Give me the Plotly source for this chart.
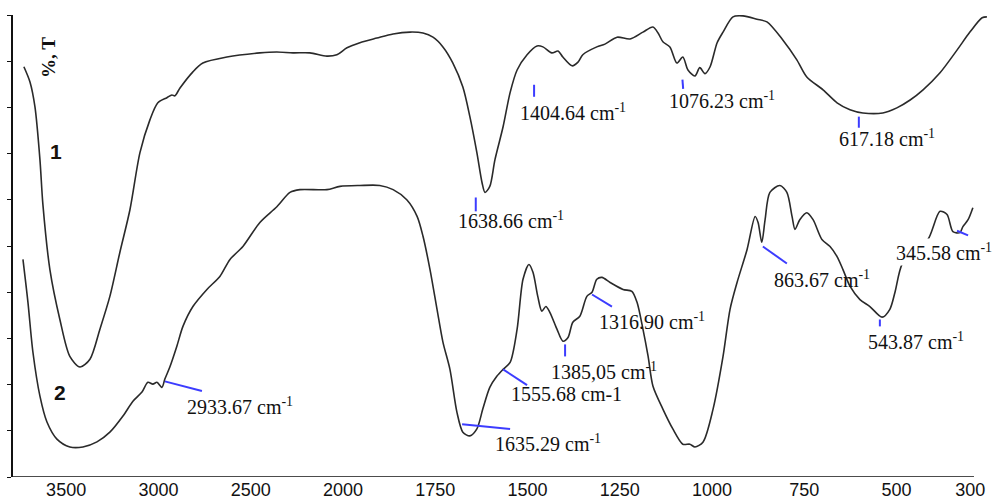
import numpy as np
import plotly.graph_objects as go

# ---------------- data (wavenumber in cm-1, transmittance in arbitrary %T) -------------
wn1 = [3729, 3696, 3669, 3642, 3626, 3588, 3534, 3480, 3425, 3371, 3317, 3263, 3209, 3154, 3100, 3046,
       3003, 2954, 2927, 2911, 2883, 2813, 2759, 2629, 2450, 2358, 2271, 2179, 2087, 2033, 1989, 1954,
       1908, 1864, 1818, 1783, 1756, 1729, 1702, 1675, 1656, 1637, 1623, 1615, 1602, 1588, 1566, 1547,
       1528, 1501, 1474, 1458, 1434, 1417, 1404, 1379, 1363, 1350, 1312, 1290, 1257, 1222, 1187, 1160,
       1146, 1133, 1114, 1095, 1079, 1065, 1046, 1033, 1019, 1005, 986, 970, 943, 916, 878, 851,
       808, 770, 743, 699, 661, 626, 591, 537, 499, 463, 428, 382, 336, 301, 268, 255]
t1 = [88.8, 85.5, 80.1, 68.7, 59.0, 44.9, 34.1, 26.1, 23.8, 25.5, 32.0, 39.1, 48.6, 57.9, 70.2, 77.3,
      81.0, 82.1, 82.7, 82.5, 84.2, 87.7, 89.6, 90.9, 91.8, 92.0, 91.8, 91.8, 91.1, 91.4, 92.9, 94.0,
      95.0, 95.9, 96.3, 96.1, 95.2, 93.1, 89.6, 84.4, 78.0, 70.2, 63.7, 61.6, 62.9, 68.7, 75.8, 83.2,
      88.1, 91.4, 93.3, 93.1, 91.8, 92.2, 90.9, 89.0, 89.8, 91.4, 93.1, 93.7, 95.2, 94.8, 96.3, 97.4,
      96.1, 94.2, 93.1, 89.6, 90.9, 88.1, 86.8, 88.6, 87.3, 88.8, 94.0, 96.3, 99.6, 99.8, 99.1, 98.5,
      94.6, 90.3, 86.6, 83.8, 81.0, 79.5, 78.8, 78.8, 79.9, 81.6, 83.8, 87.5, 92.4, 96.3, 99.4, 99.6]

wn2 = [3734, 3707, 3680, 3642, 3604, 3550, 3480, 3409, 3333, 3263, 3192, 3138, 3089, 3057, 3030, 3008,
       2981, 2965, 2938, 2900, 2867, 2813, 2737, 2667, 2612, 2542, 2450, 2358, 2287, 2233, 2087, 2016,
       1954, 1900, 1864, 1827, 1799, 1783, 1764, 1745, 1729, 1710, 1691, 1675, 1656, 1637, 1621, 1602,
       1583, 1566, 1547, 1528, 1512, 1496, 1485, 1472, 1461, 1450, 1439, 1420, 1404, 1390, 1377, 1358,
       1339, 1325, 1312, 1298, 1276, 1241, 1217, 1203, 1187, 1173, 1160, 1133, 1106, 1079, 1060, 1046,
       1024, 997, 970, 951, 932, 905, 883, 875, 865, 856, 843, 816, 797, 783, 775, 762,
       743, 726, 702, 680, 661, 645, 626, 599, 572, 539, 518, 504, 485, 444, 415, 382,
       363, 347, 328, 320, 306, 293]
t2 = [47.1, 37.8, 27.0, 17.5, 11.9, 8.2, 6.5, 6.5, 7.6, 9.7, 13.2, 16.4, 18.4, 20.5, 20.1, 20.5,
      19.4, 21.2, 23.8, 28.3, 32.6, 36.9, 40.6, 43.4, 47.1, 49.9, 55.1, 58.5, 61.6, 62.2, 62.2, 62.9,
      63.1, 63.1, 62.2, 60.0, 56.4, 52.1, 44.9, 36.3, 29.2, 23.3, 14.0, 9.7, 8.9, 10.4, 14.7, 19.4,
      21.8, 23.3, 24.8, 32.0, 42.8, 46.0, 44.3, 39.1, 35.9, 36.9, 35.6, 32.0, 29.4, 30.2, 33.5, 34.8,
      39.1, 40.0, 42.8, 43.2, 42.1, 40.6, 40.2, 37.8, 32.0, 26.1, 19.7, 14.7, 10.4, 7.1, 7.1, 6.5,
      7.6, 14.7, 26.1, 36.3, 42.1, 49.2, 56.4, 55.1, 50.8, 55.7, 61.6, 63.1, 61.6, 56.4, 53.6, 55.7,
      57.2, 55.7, 51.4, 49.9, 47.7, 44.9, 41.3, 38.4, 36.9, 34.6, 36.3, 40.0, 46.0, 49.9, 51.4, 57.5,
      56.8, 53.1, 52.9, 54.2, 55.7, 58.3]

tick_wn = [3500, 3000, 2500, 2000, 1750, 1500, 1250, 1000, 750, 500, 300]
tick_text = [str(v) for v in tick_wn]

peak_labels = ["1404.64 cm<sup>-1</sup>", "1076.23 cm<sup>-1</sup>", "617.18 cm<sup>-1</sup>",
               "1638.66 cm<sup>-1</sup>", "2933.67 cm<sup>-1</sup>", "1635.29 cm<sup>-1</sup>",
               "1555.68 cm-1", "1385,05 cm<sup>-1</sup>", "1316.90 cm<sup>-1</sup>",
               "863.67 cm<sup>-1</sup>", "543.87 cm<sup>-1</sup>", "345.58 cm<sup>-1</sup>"]

# ---------------- layout helpers ----------------
def axis_pos(w):
    """Instrument scale: region above 2000 cm-1 compressed 2x."""
    w = np.asarray(w, dtype=float)
    return np.where(w > 2000, 2000 + (w - 2000) / 2.0, w)

# label anchor (left edge wavenumber, y), marker line endpoints
label_pos = [(1526, 79.0), (1122, 81.6), (661, 73.4), (1694, 55.7), (2856, 15.3), (1593, 7.3),
             (1550, 17.9), (1442, 22.9), (1312, 33.7), (837, 42.8), (583, 29.4), (507, 48.8)]
marker_lines = [((1482, 84.9), (1482, 82.3)), ((1080, 86.0), (1078, 84.0)), ((602, 78.0), (602, 75.6)),
                ((1640, 60.5), (1640, 57.5)), ((2965, 20.7), (2764, 18.6)), ((1677, 11.4), (1547, 10.4)),
                ((1566, 23.3), (1501, 19.9)), ((1398, 28.7), (1398, 26.1)), ((1325, 39.5), (1271, 36.9)),
                ((862, 49.9), (797, 46.2)), ((545, 34.1), (545, 32.6)), ((336, 53.3), (306, 52.3))]

fig = go.Figure()
for wn, t in ((wn1, t1), (wn2, t2)):
    fig.add_trace(go.Scatter(x=axis_pos(wn), y=t, mode="lines",
                             line=dict(color="#2a2a2a", width=1.6, shape="spline", smoothing=0.8),
                             showlegend=False, hoverinfo="skip"))

annotations = []
for text, (wx, yy) in zip(peak_labels, label_pos):
    a = dict(x=float(axis_pos(wx)), y=yy, xref="x", yref="y", text=text, showarrow=False,
             xanchor="left", yanchor="middle",
             font=dict(family="Liberation Serif, Times New Roman, serif", size=20, color="#111"))
    if text.startswith("345.58"):
        a["bgcolor"] = "white"
    annotations.append(a)

annotations += [
    dict(x=0.0359, y=0.734, xref="paper", yref="paper", text="<b>1</b>", showarrow=False,
         font=dict(family="Liberation Sans, Arial, sans-serif", size=21, color="#1a1208")),
    dict(x=0.040, y=0.153, xref="paper", yref="paper", text="<b>2</b>", showarrow=False,
         font=dict(family="Liberation Sans, Arial, sans-serif", size=21, color="#111")),
    dict(x=0.0236, y=0.957, xref="paper", yref="paper", text="<b>%, T</b>", showarrow=False,
         textangle=-90, font=dict(family="Liberation Serif, Times New Roman, serif", size=19, color="#111")),
]

shapes = []
for (p0, p1) in marker_lines:
    shapes.append(dict(type="line", xref="x", yref="y",
                       x0=float(axis_pos(p0[0])), y0=p0[1], x1=float(axis_pos(p1[0])), y1=p1[1],
                       line=dict(color="#3c3cff", width=2)))
# x axis baseline
shapes.append(dict(type="line", xref="x", yref="y", x0=2894, y0=0, x1=290, y1=0,
                   line=dict(color="#111", width=1.5)))

fig.update_layout(
    width=993, height=500,
    margin=dict(l=13, r=5, t=15, b=23, autoexpand=False),
    paper_bgcolor="white", plot_bgcolor="white",
    annotations=annotations, shapes=shapes,
    xaxis=dict(range=[2894, 252], tickvals=axis_pos(tick_wn).tolist(), ticktext=tick_text,
               showgrid=False, zeroline=False, showline=False, ticks="", automargin=False,
               tickfont=dict(family="Liberation Sans, Arial, sans-serif", size=18, color="#111")),
    yaxis=dict(range=[0, 100], dtick=10, showticklabels=False, showgrid=False, zeroline=False,
               showline=True, linecolor="#111", linewidth=2, ticks="outside", ticklen=4,
               tickcolor="#111", tickwidth=1, automargin=False),
)

fig.write_html("out.html")
